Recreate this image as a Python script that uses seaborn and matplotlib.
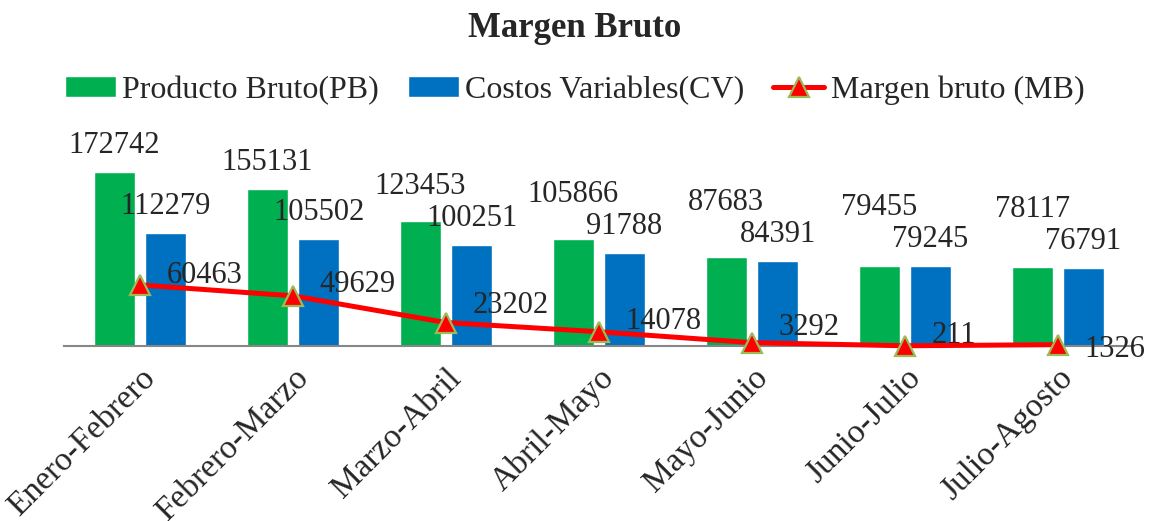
import numpy as np
import pandas as pd
import matplotlib
matplotlib.use("Agg")
import matplotlib.pyplot as plt
import seaborn as sns

# Datos del grafico
periodos = ["Enero-Febrero", "Febrero-Marzo", "Marzo-Abril", "Abril-Mayo",
            "Mayo-Junio", "Junio-Julio", "Julio-Agosto"]
producto_bruto = [172742, 155131, 123453, 105866, 87683, 79455, 78117]
costos_variables = [112279, 105502, 100251, 91788, 84391, 79245, 76791]
margen_bruto = [60463, 49629, 23202, 14078, 3292, 211, 1326]

serie_pb = "Producto Bruto(PB)"
serie_cv = "Costos Variables(CV)"
serie_mb = "Margen bruto (MB)"

sns.set_theme(style="white")
plt.rcParams["font.family"] = ["Liberation Serif", "DejaVu Serif"]

df = pd.DataFrame({
    "periodo": periodos * 2,
    "valor": producto_bruto + costos_variables,
    "serie": [serie_pb] * len(periodos) + [serie_cv] * len(periodos),
})

fig = plt.figure(figsize=(11.49, 5.21), dpi=100)
ax = fig.add_axes([0.0553, 0.3359, 0.932, 0.3877])
ymax = 200000

sns.barplot(data=df, x="periodo", y="valor", hue="serie", ax=ax,
            palette={serie_pb: "#00B050", serie_cv: "#0070C0"},
            width=0.67, gap=0.2, saturation=1, order=periodos)

# etiquetas de barras: las verdes se suben si chocan con las azules (como Excel)
px_per_unit = 0.3877 * 521 / ymax
pt = 0.72  # puntos por pixel a 100 dpi
pad_px, digit_px, gap_px = 19, 21, 11
green_bars, blue_bars = ax.containers[0], ax.containers[1]
for bg, bb, pb, cv in zip(green_bars, blue_bars, producto_bruto, costos_variables):
    xb = bb.get_x() + bb.get_width() / 2
    ax.annotate(f"{cv}", (xb, cv), xytext=(0, pad_px * pt), textcoords="offset points",
                ha="center", va="baseline", fontsize=22)
    off = max(pad_px, (cv - pb) * px_per_unit + pad_px + digit_px + gap_px)
    xg = bg.get_x() + bg.get_width() / 2
    ax.annotate(f"{pb}", (xg, pb), xytext=(0, off * pt), textcoords="offset points",
                ha="center", va="baseline", fontsize=22)

x = np.arange(len(periodos))
ax.plot(x, margen_bruto, color="#FF0000", linewidth=3.6, marker="^",
        markersize=14, markerfacecolor="#FF0000", markeredgecolor="#9BBB59",
        markeredgewidth=1.6, label=serie_mb, zorder=5, clip_on=False)

# desplazamiento vertical (px) de cada etiqueta de la linea
label_dy_px = [2, 4, 10, 3, 8, 3, -12]
for xi, v, dy in zip(x, margen_bruto, label_dy_px):
    ax.annotate(f"{v}", (xi, v), xytext=(19, dy * pt), textcoords="offset points",
                ha="left", va="baseline", fontsize=22)

ax.set_xlim(-0.5, len(periodos) - 0.5)
ax.set_ylim(0, ymax)
ax.set_xlabel("")
ax.set_ylabel("")
ax.set_yticks([])
for s in ["top", "right", "left"]:
    ax.spines[s].set_visible(False)
ax.spines["bottom"].set_color("#868686")
ax.spines["bottom"].set_linewidth(1.5)
ax.tick_params(axis="x", length=0, pad=12)
plt.setp(ax.get_xticklabels(), rotation=45, ha="right", va="top",
         rotation_mode="anchor", fontsize=24)

handles, labels = ax.get_legend_handles_labels()
if ax.get_legend() is not None:
    ax.get_legend().remove()
order = [labels.index(serie_pb), labels.index(serie_cv), labels.index(serie_mb)]
fig.legend([handles[i] for i in order], [labels[i] for i in order],
           loc="center", bbox_to_anchor=(0.5, 0.827), ncol=3, frameon=False,
           fontsize=23, handlelength=1.6, handleheight=0.65, handletextpad=0.2,
           columnspacing=0.9, borderpad=0)

fig.suptitle("Margen Bruto", fontsize=25, fontweight="bold", y=0.946, va="center")

fig.savefig("out.png", dpi=100)
